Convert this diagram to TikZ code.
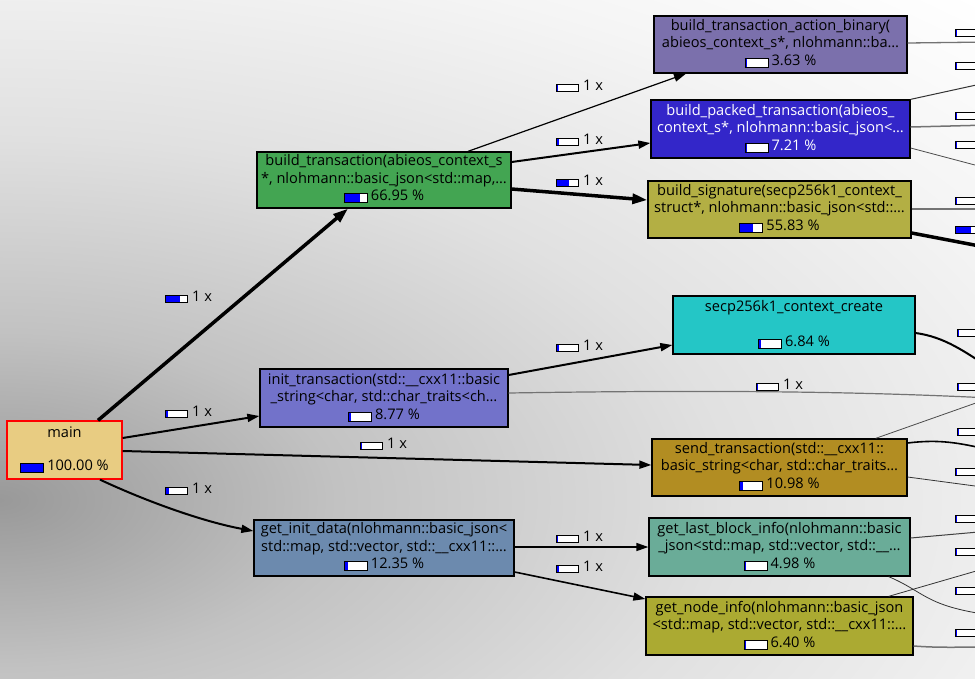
\documentclass[tikz,border=0pt]{standalone}
\usepackage{fontspec}
\setmainfont{Open Sans}
\usetikzlibrary{arrows.meta,calc}

\definecolor{bga}{gray}{0.60}
\definecolor{bgb}{gray}{0.76}
\definecolor{bgc}{gray}{0.88}
\definecolor{bgd}{gray}{0.96}
\definecolor{cmain}{HTML}{E8CC82}
\definecolor{cbt}{HTML}{43A552}
\definecolor{cbab}{HTML}{7B70AC}
\definecolor{cbpt}{HTML}{3326C9}
\definecolor{cbs}{HTML}{B3AF44}
\definecolor{cscc}{HTML}{24C6C6}
\definecolor{cit}{HTML}{7272CA}
\definecolor{cst}{HTML}{B28D22}
\definecolor{cgid}{HTML}{6C8AAE}
\definecolor{cglb}{HTML}{6AAC98}
\definecolor{cgni}{HTML}{ABAA32}
\definecolor{lgray}{gray}{0.45}

\pgfdeclareradialshading{bgshade}{\pgfpoint{0bp}{0bp}}{color(0bp)=(bga); color(6bp)=(bgb); color(13bp)=(bgc); color(20bp)=(bgd); color(25bp)=(white); color(50bp)=(white)}

\newcommand\pbar[1]{\raisebox{-1pt}{\setlength{\fboxsep}{0pt}\setlength{\fboxrule}{1pt}\fcolorbox{black}{white}{\makebox[22pt][l]{\textcolor{blue}{\rule{#1pt}{8pt}}}}}}
\newcommand\ebar[1]{\raisebox{0pt}{\setlength{\fboxsep}{0pt}\setlength{\fboxrule}{1pt}\fcolorbox{black}{white}{\makebox[21pt][l]{\textcolor{blue}{\rule{#1pt}{6pt}}}}}}

\tikzset{
  fbox/.style={draw=black, line width=1.3pt, rectangle, inner sep=0pt},
  ft/.style={font=\fontsize{14.6}{16}\selectfont, inner sep=0pt, anchor=center},
  lab/.style={font=\fontsize{14.6}{16}\selectfont, inner sep=0pt, anchor=west},
  arr/.style={-{Triangle[length=12pt,width=8pt]}},
  arrbig/.style={-{Triangle[length=15pt,width=10pt]}},
}

\begin{document}
\begin{tikzpicture}[x=1pt,y=-1pt]
\useasboundingbox (0,0) rectangle (975,678);
\clip (0,0) rectangle (975,678);
\fill[white] (0,0) rectangle (975,678);
\shade[shading=bgshade] (0,500) ellipse (1400 and 700);

% ---------- nodes ----------
\node[fbox, draw=red, fill=cmain, minimum width=115pt, minimum height=58pt] (main) at (64.5,450) {};
\node[ft] (main1) at ($(main.north)+(0,12)$) {main};
\node[ft] (main3) at ($(main.north)+(0,46)$) {\pbar{22}\hspace{3pt}100.00 \%};

\node[fbox, fill=cbt, minimum width=254pt, minimum height=56pt] (bt) at (384,180) {};
\node[ft] (bt1) at ($(bt.north)+(0,10)$) {build\_transaction(abieos\_context\_s};
\node[ft] (bt2) at ($(bt.north)+(0,28)$) {*, nlohmann::basic\_json<std::map,…};
\node[ft] (bt3) at ($(bt.north)+(0,45)$) {\pbar{14.7}\hspace{3pt}66.95 \%};

\node[fbox, fill=cbab, minimum width=253pt, minimum height=57pt] (bab) at (780.5,44.5) {};
\node[ft] (bab1) at ($(bab.north)+(0,11)$) {build\_transaction\_action\_binary(};
\node[ft] (bab2) at ($(bab.north)+(0,28)$) {abieos\_context\_s*, nlohmann::ba…};
\node[ft] (bab3) at ($(bab.north)+(0,46)$) {\pbar{0.8}\hspace{3pt}3.63 \%};

\node[fbox, fill=cbpt, minimum width=259pt, minimum height=58pt] (bpt) at (780.5,129) {};
\node[ft, text=white] (bpt1) at ($(bpt.north)+(0,12)$) {build\_packed\_transaction(abieos\_};
\node[ft, text=white] (bpt2) at ($(bpt.north)+(0,29)$) {context\_s*, nlohmann::basic\_json<…};
\node[ft, text=white] (bpt3) at ($(bpt.north)+(0,47)$) {\pbar{1.6}\hspace{3pt}7.21 \%};

\node[fbox, fill=cbs, minimum width=263pt, minimum height=57pt] (bs) at (779.5,209.5) {};
\node[ft] (bs1) at ($(bs.north)+(0,11)$) {build\_signature(secp256k1\_context\_};
\node[ft] (bs2) at ($(bs.north)+(0,28)$) {struct*, nlohmann::basic\_json<std::…};
\node[ft] (bs3) at ($(bs.north)+(0,46)$) {\pbar{12.3}\hspace{3pt}55.83 \%};

\node[fbox, fill=cscc, minimum width=242pt, minimum height=58pt] (scc) at (794,325) {};
\node[ft] (scc1) at ($(scc.north)+(0,12)$) {secp256k1\_context\_create};
\node[ft] (scc3) at ($(scc.north)+(0,47)$) {\pbar{1.5}\hspace{3pt}6.84 \%};

\node[fbox, fill=cit, minimum width=248pt, minimum height=58pt] (it) at (384,398) {};
\node[ft] (it1) at ($(it.north)+(0,12)$) {init\_transaction(std::\_\_cxx11::basic};
\node[ft] (it2) at ($(it.north)+(0,29)$) {\_string<char, std::char\_traits<ch…};
\node[ft] (it3) at ($(it.north)+(0,47)$) {\pbar{1.9}\hspace{3pt}8.77 \%};

\node[fbox, fill=cst, minimum width=255pt, minimum height=57pt] (st) at (779.5,467.5) {};
\node[ft] (st1) at ($(st.north)+(0,11)$) {send\_transaction(std::\_\_cxx11::};
\node[ft] (st2) at ($(st.north)+(0,28)$) {basic\_string<char, std::char\_traits…};
\node[ft] (st3) at ($(st.north)+(0,46)$) {\pbar{2.4}\hspace{3pt}10.98 \%};

\node[fbox, fill=cgid, minimum width=260pt, minimum height=56pt] (gid) at (384,548) {};
\node[ft] (gid1) at ($(gid.north)+(0,10)$) {get\_init\_data(nlohmann::basic\_json<};
\node[ft] (gid2) at ($(gid.north)+(0,28)$) {std::map, std::vector, std::\_\_cxx11::…};
\node[ft] (gid3) at ($(gid.north)+(0,45)$) {\pbar{2.7}\hspace{3pt}12.35 \%};

\node[fbox, fill=cglb, minimum width=261pt, minimum height=58pt] (glb) at (779.5,547) {};
\node[ft] (glb1) at ($(glb.north)+(0,12)$) {get\_last\_block\_info(nlohmann::basic};
\node[ft] (glb2) at ($(glb.north)+(0,29)$) {\_json<std::map, std::vector, std::\_\_…};
\node[ft] (glb3) at ($(glb.north)+(0,47)$) {\pbar{1.1}\hspace{3pt}4.98 \%};

\node[fbox, fill=cgni, minimum width=267pt, minimum height=58pt] (gni) at (779.5,626) {};
\node[ft] (gni1) at ($(gni.north)+(0,12)$) {get\_node\_info(nlohmann::basic\_json};
\node[ft] (gni2) at ($(gni.north)+(0,29)$) {<std::map, std::vector, std::\_\_cxx11::…};
\node[ft] (gni3) at ($(gni.north)+(0,47)$) {\pbar{1.4}\hspace{3pt}6.40 \%};

% ---------- free ends at the right border ----------
\coordinate (r1) at (990,42);
\coordinate (r2) at (990,82);
\coordinate (r3) at (990,125);
\coordinate (r4) at (990,169);
\coordinate (r5) at (990,209);
\coordinate (r6) at (990,248);
\coordinate (r7) at (990,368);
\coordinate (r8) at (990,398);
\coordinate (r9) at (990,450);
\coordinate (r10) at (990,488);
\coordinate (r11) at (990,531);
\coordinate (r12) at (990,615);
\coordinate (r13) at (990,567);
\coordinate (r14) at (990,647);
\coordinate (r15) at (990,398);

% ---------- connectors ----------
\draw[line width=3.5pt, arrbig] ($(main.north)+(33.5,0)$) -- ($(bt.south)+(-36,0)$);
\draw[line width=2pt, arr] ($(main.east)+(0,-12)$) -- ($(it.west)+(0,18)$);
\draw[line width=2pt, arr] ($(main.east)+(0,1)$) -- ($(st.west)+(0,-2.5)$);
\draw[line width=2pt, arr] ($(main.south)+(35.5,0)$) .. controls (150,503) and (205,522) .. ($(gid.west)+(0,-17)$);

\draw[line width=1.2pt, arr] ($(bt.north)+(84,0)$) -- ($(bab.south)+(-94.5,0)$);
\draw[line width=2pt, arr] ($(bt.east)+(0,-18)$) -- ($(bpt.west)+(0,14)$);
\draw[line width=3.5pt, arrbig] ($(bt.east)+(0,9)$) -- ($(bs.west)+(0,-9.5)$);

\draw[line width=2pt, arr] ($(it.east)+(0,-23)$) -- ($(scc.west)+(0,20)$);
\draw[line width=1.2pt, lgray] ($(it.east)+(0,-5)$) .. controls (700,390) and (850,391) .. (r15);

\draw[line width=1.6pt, arr] ($(gid.east)+(0,-1)$) -- (glb.west);
\draw[line width=1.6pt, arr] ($(gid.east)+(0,24)$) -- ($(gni.west)+(0,-27)$);

\draw[line width=1.3pt, lgray] ($(bab.east)+(0,-1.5)$) -- (r1);
\draw[line width=1pt, black!80] (bpt.north east) -- (r2);
\draw[line width=1.5pt, lgray] ($(bpt.east)+(0,-2)$) -- (r3);
\draw[line width=0.8pt, black!70] ($(bpt.east)+(0,19)$) -- (r4);
\draw[line width=1.5pt, lgray] ($(bs.east)+(0,-0.5)$) -- (r5);
\draw[line width=3.5pt] ($(bs.east)+(0,23.5)$) -- (r6);
\draw[line width=2pt] ($(scc.east)+(0,8)$) .. controls (945,337) and (965,352) .. (r7);
\draw[line width=0.8pt, black!70] ($(st.north east)+(-32,0)$) -- (r8);
\draw[line width=1.6pt] ($(st.east)+(0,-24.5)$) .. controls (940,439) and (960,443) .. (r9);
\draw[line width=0.8pt, black!80] ($(st.east)+(0,9.5)$) -- (r10);
\draw[line width=1pt, black!75] ($(glb.east)+(0,-9)$) -- (r11);
\draw[line width=0.8pt, black!80] ($(glb.south east)+(-22,0)$) .. controls (925,592) and (925,606) .. (r12);
\draw[line width=0.8pt, black!80] ($(gni.north east)+(-25,0)$) -- (r13);
\draw[line width=1.5pt, lgray] ($(gni.east)+(0,20)$) .. controls (940,648) and (960,647) .. (r14);

% ---------- connector labels ----------
\node[lab] (l1) at (165,297) {\ebar{14}\hspace{4pt}1 x};
\node[lab] (l2) at (165,412) {\ebar{1.5}\hspace{4pt}1 x};
\node[lab] (l3) at (360,444) {\ebar{1.2}\hspace{4pt}1 x};
\node[lab] (l4) at (165,489) {\ebar{2.6}\hspace{4pt}1 x};
\node[lab] (l5) at (556,86) {\ebar{0.8}\hspace{4pt}1 x};
\node[lab] (l6) at (556,140) {\ebar{1.5}\hspace{4pt}1 x};
\node[lab] (l7) at (556,181) {\ebar{11.7}\hspace{4pt}1 x};
\node[lab] (l8) at (556,346) {\ebar{1.4}\hspace{4pt}1 x};
\node[lab] (l9) at (756,385) {\ebar{1.2}\hspace{4pt}1 x};
\node[lab] (l10) at (556,537) {\ebar{1.1}\hspace{4pt}1 x};
\node[lab] (l11) at (556,567) {\ebar{1.3}\hspace{4pt}1 x};

% label bars whose text lies beyond the right border
\node[lab] (q1) at (955,33) {\ebar{0.8}};
\node[lab] (q2) at (955,66) {\ebar{0.8}};
\node[lab] (q3) at (955,116) {\ebar{0.8}};
\node[lab] (q4) at (955,145) {\ebar{0.8}};
\node[lab] (q5) at (955,201) {\ebar{0.8}};
\node[lab] (q6) at (955,230) {\ebar{15}};
\node[lab] (q7) at (957,333) {\ebar{0.8}};
\node[lab] (q8) at (957,387) {\ebar{0.8}};
\node[lab] (q9) at (957,432) {\ebar{0.8}};
\node[lab] (q10) at (955,472) {\ebar{0.8}};
\node[lab] (q11) at (955,519) {\ebar{0.8}};
\node[lab] (q12) at (955,552) {\ebar{0.8}};
\node[lab] (q13) at (955,591) {\ebar{0.8}};
\node[lab] (q14) at (955,633) {\ebar{0.8}};
\end{tikzpicture}
\end{document}
